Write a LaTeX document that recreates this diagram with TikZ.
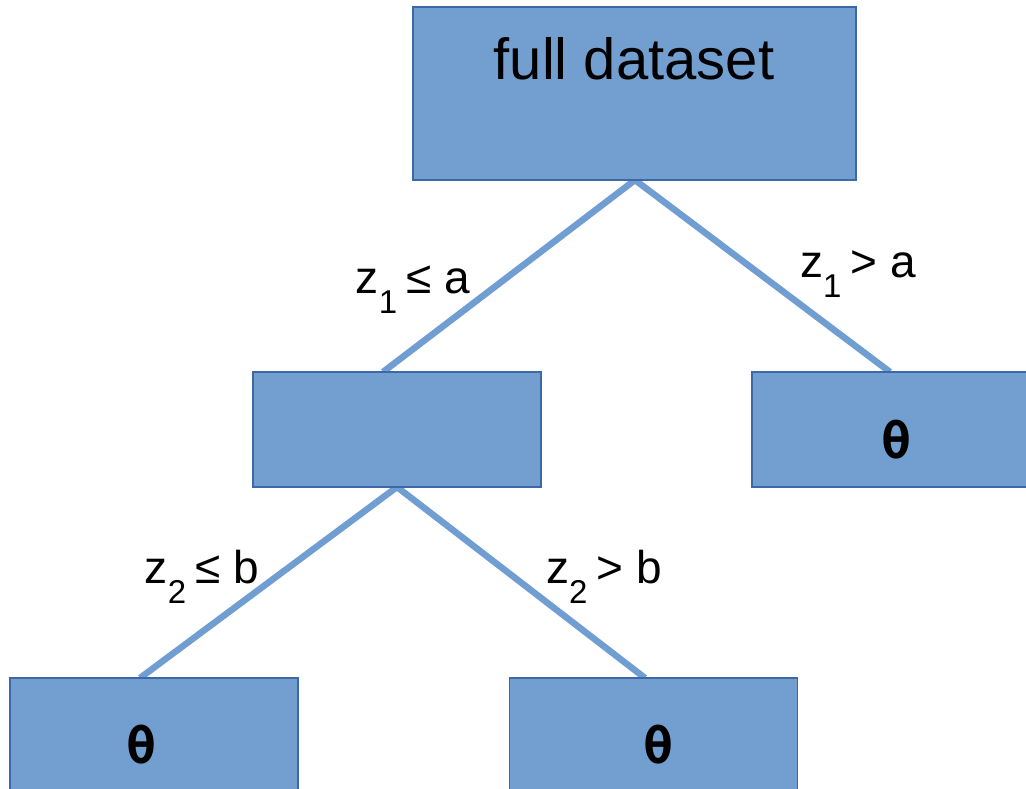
\documentclass[tikz,border=0pt]{standalone}
\usepackage{fontspec}
\setmainfont{Liberation Sans}
\newfontfamily\thetafont{DejaVu Sans Mono}
\definecolor{boxfill}{RGB}{114,159,207}
\definecolor{boxedge}{RGB}{60,104,168}
\definecolor{branch}{RGB}{112,158,210}
\newcommand\splitlabel[3]{#1\raisebox{-0.45em}{\fontsize{33}{33}\selectfont #2}\hspace{0.2em}#3}
\tikzset{
  x=1pt, y=-1pt,
  treebox/.style={draw=boxedge, line width=1.5pt, fill=boxfill, inner sep=0pt},
  branchline/.style={draw=branch, line width=6.5pt},
  condlabel/.style={font=\fontsize{46}{48}\selectfont, inner sep=0pt, anchor=base},
  leaflabel/.style={font=\thetafont\bfseries\fontsize{50}{50}\selectfont, inner sep=0pt},
}
\begin{document}
\begin{tikzpicture}
\useasboundingbox (0,0) rectangle (1026,789);
% branches (drawn first so the boxes sit on top)
\coordinate (rootb) at (635,180);
\coordinate (midt) at (383,372);
\coordinate (rightt) at (890,372);
\coordinate (midb) at (397,487);
\coordinate (llt) at (140,678);
\coordinate (lrt) at (645,678);
\draw[branchline] (rootb) -- (midt);
\draw[branchline] (rootb) -- (rightt);
\draw[branchline] (midb) -- (llt);
\draw[branchline] (midb) -- (lrt);
% boxes
\node[treebox, minimum width=443pt, minimum height=173pt] (root) at (634.5,93.5) {};
\node[treebox, minimum width=288pt, minimum height=115pt] (mid) at (397,429.5) {};
\node[treebox, minimum width=288pt, minimum height=115pt] (right) at (896,429.5) {};
\node[treebox, minimum width=288pt, minimum height=115pt] (ll) at (154,735.5) {};
\node[treebox, minimum width=288pt, minimum height=115pt] (lr) at (653.5,735.5) {};
% box texts
\node[font=\fontsize{58}{60}\selectfont, inner sep=0pt, anchor=base] (roottext) at (634,80) {full dataset};
\node[leaflabel] (rightleaf) at (897,440) {θ};
\node[leaflabel] (llleaf) at (142,745) {θ};
\node[leaflabel] (lrleaf) at (659,745) {θ};
% branch conditions
\node[condlabel] (c1) at (413,293) {\splitlabel{z}{1}{≤ a}};
\node[condlabel] (c2) at (858,277) {\splitlabel{z}{1}{> a}};
\node[condlabel] (c3) at (202,583) {\splitlabel{z}{2}{≤ b}};
\node[condlabel] (c4) at (604,583) {\splitlabel{z}{2}{> b}};
\end{tikzpicture}
\end{document}
